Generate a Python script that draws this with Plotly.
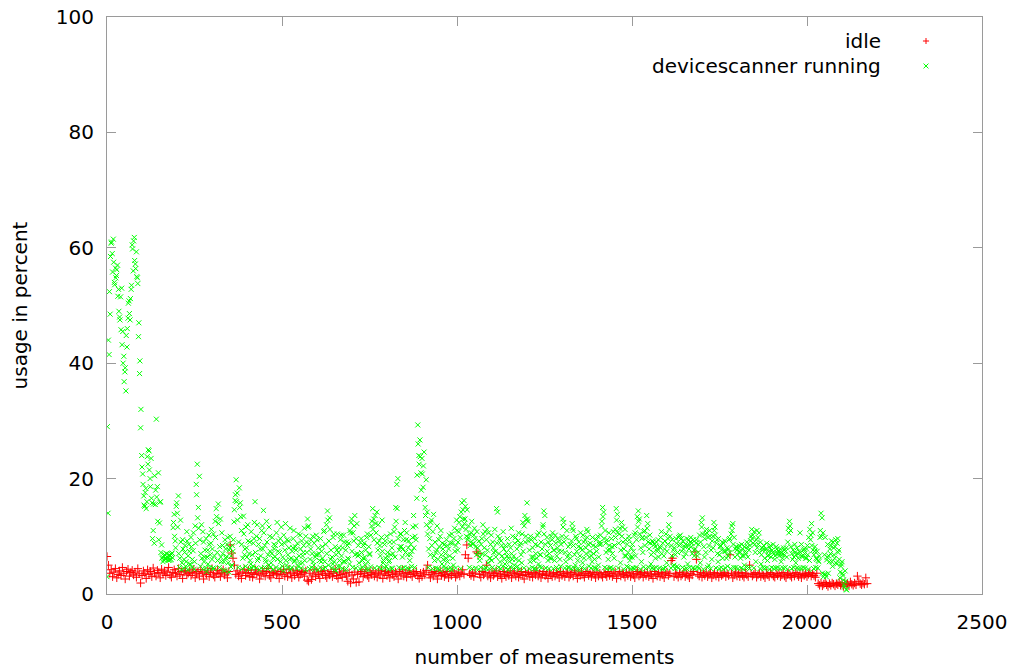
import plotly.graph_objects as go

IDLE_STEP = 4
SCAN_STEP = 3

idle_values = [
    6.5, 5.0, 3.6, 4.2, 3.0, 3.8, 4.4, 2.8, 3.4, 4.0, 3.2, 4.6, 3.6, 2.6, 3.9, 4.3, 3.1, 3.7, 4.1, 3.3,
    3.8, 2.9, 4.4, 3.5, 1.9, 3.2, 4.0, 3.6, 2.7, 4.2, 3.4, 3.9, 3.0, 4.5, 3.6, 3.1, 4.1, 3.7, 2.8, 4.3,
    3.5, 4.0, 3.2, 3.8, 4.6, 3.3, 2.9, 3.7, 4.2, 3.6, 3.1, 4.4, 3.4, 3.9, 2.7, 3.8, 4.1, 3.3, 3.6, 4.0,
    3.2, 3.7, 4.3, 2.8, 3.5, 3.9, 3.1, 4.2, 3.6, 2.6, 3.8, 3.4, 4.0, 3.0, 3.7, 4.4, 3.3, 2.9, 3.6, 4.1,
    3.5, 3.0, 3.8, 4.2, 3.3, 3.7, 2.8, 3.9, 8.5, 7.1, 6.2, 5.0, 3.4, 4.0, 3.1, 3.6, 2.7, 3.8, 4.3, 3.2,
    3.6, 4.1, 3.0, 3.7, 2.9, 3.4, 4.2, 3.5, 3.8, 2.6, 3.3, 4.0, 3.6, 3.1, 3.9, 4.4, 3.2, 2.8, 3.7, 3.5,
    4.0, 3.3, 3.6, 2.7, 3.9, 3.4, 4.2, 3.1, 3.7, 3.0, 4.3, 3.5, 2.8, 3.8, 3.2, 4.1, 3.6, 2.9, 3.4, 3.9,
    3.7, 3.1, 4.0, 2.4, 2.2, 3.6, 2.5, 3.3, 4.2, 3.0, 3.8, 3.4, 2.7, 3.9, 3.5, 4.1, 3.2, 2.8, 3.6, 3.3,
    3.9, 3.0, 3.6, 4.3, 3.2, 2.7, 3.8, 3.4, 2.9, 4.0, 3.5, 3.1, 2.2, 3.7, 1.9, 3.3, 2.6, 3.8, 2.0, 3.4,
    2.1, 3.6, 3.9, 3.0, 3.5, 4.2, 3.2, 2.8, 3.7, 3.4, 4.0, 3.1, 3.6, 2.9, 3.8, 3.3, 4.1, 2.7, 3.5, 3.9,
    3.2, 3.7, 2.8, 4.0, 3.4, 3.0, 3.8, 3.5, 2.6, 3.9, 3.3, 4.2, 3.1, 3.6, 2.9, 3.7, 4.0, 3.4, 3.0, 3.8,
    3.5, 3.9, 3.2, 2.7, 3.6, 3.0, 3.8, 3.3, 4.1, 5.0, 3.4, 2.8, 3.7, 3.1, 3.9, 3.5, 2.6, 3.6, 4.0, 3.2,
    3.7, 3.0, 3.4, 3.9, 2.8, 3.5, 3.2, 4.0, 3.6, 2.9, 3.3, 3.8, 3.1, 3.6, 4.2, 3.4, 6.8, 8.5, 6.2, 3.5,
    3.2, 3.8, 3.0, 3.6, 7.3, 7.0, 3.4, 2.9, 3.9, 3.3, 3.7, 5.0, 3.1, 3.5, 2.8, 3.8, 3.2, 3.6, 4.0, 3.0,
    3.6, 3.3, 2.7, 3.9, 3.4, 3.0, 3.7, 3.2, 4.0, 2.8, 3.5, 3.8, 3.1, 3.6, 2.9, 3.4, 3.9, 3.2, 2.6, 3.7,
    3.4, 3.8, 3.0, 3.5, 2.9, 3.7, 3.3, 4.0, 3.1, 3.6, 2.8, 3.4, 3.9, 3.2, 3.5, 2.7, 3.8, 3.3, 3.0, 3.6,
    3.1, 3.7, 3.4, 2.8, 3.9, 3.2, 3.6, 3.0, 3.5, 3.8, 2.9, 3.3, 3.7, 3.1, 4.0, 3.4, 2.7, 3.6, 3.2, 3.8,
    3.3, 2.9, 3.6, 3.9, 3.2, 3.5, 3.0, 3.7, 3.4, 2.8, 3.8, 3.1, 3.6, 3.3, 2.9, 3.7, 3.4, 3.0, 3.9, 3.2,
    3.6, 3.0, 3.5, 3.8, 2.7, 3.3, 3.9, 3.1, 3.6, 3.4, 2.9, 3.7, 3.2, 3.8, 3.0, 3.5, 3.3, 2.8, 3.6, 3.9,
    3.1, 3.4, 3.7, 2.9, 3.6, 3.2, 3.8, 3.0, 3.5, 3.3, 2.7, 3.9, 3.4, 3.1, 3.6, 3.0, 3.7, 3.3, 2.8, 3.5,
    3.8, 3.2, 3.5, 5.8, 6.2, 3.0, 3.6, 3.3, 2.9, 3.7, 3.1, 3.4, 3.8, 3.0, 3.5, 3.2, 2.8, 3.6, 3.3, 3.9,
    7.3, 6.0, 3.4, 3.1, 3.7, 2.9, 3.5, 3.2, 3.8, 3.0, 3.4, 3.6, 2.8, 3.3, 3.7, 3.1, 3.5, 2.9, 3.6, 3.2,
    3.4, 3.7, 3.0, 3.5, 3.2, 6.8, 3.6, 2.8, 3.3, 3.8, 3.1, 3.5, 3.0, 3.7, 3.2, 2.9, 3.6, 3.3, 3.0, 5.0,
    3.5, 3.1, 3.4, 3.7, 2.9, 3.3, 3.6, 3.0, 3.5, 3.2, 2.8, 3.6, 3.3, 3.0, 3.7, 3.4, 3.1, 2.9, 3.5, 3.2,
    3.6, 3.0, 3.3, 3.7, 3.1, 2.8, 3.4, 3.6, 3.2, 2.9, 3.5, 3.1, 3.7, 3.3, 3.0, 3.4, 2.8, 3.6, 3.2, 3.5,
    3.0, 3.4, 3.7, 3.1, 3.5, 3.2, 2.9, 3.6, 1.8, 1.5, 1.9, 1.4, 1.7, 2.0, 1.6, 1.3, 1.8, 1.5, 1.9, 1.7,
    1.4, 1.8, 1.6, 2.0, 1.5, 1.7, 1.3, 1.9, 1.6, 1.8, 1.4, 2.1, 1.7, 1.5, 1.9, 1.6, 3.1, 2.2, 1.8, 1.6,
    1.9, 1.7, 2.8, 1.8,
]

# devicescanner running, measurements 0, 3, 6, ...
scan_values_a = [
    3.0, 14.0, 41.5, 48.5, 60.8, 59.0, 61.5, 54.0, 56.5, 55.2, 57.0, 52.8, 48.0, 51.5, 53.0, 45.5, 41.2, 38.5, 35.2, 42.8,
    47.8, 50.8, 47.5, 52.8, 60.5, 56.0, 61.8, 57.2, 59.3, 54.8, 44.6, 38.2, 28.8, 24.0, 20.8, 17.0, 15.2, 18.3, 16.0, 22.5,
    24.8, 20.0, 23.5, 15.8, 11.0, 8.8, 15.5, 30.3, 18.6, 21.0, 12.3, 16.0, 8.5, 6.4, 5.9, 6.8, 6.1, 7.0, 6.3, 5.8,
    6.6, 6.0, 7.1, 11.5, 13.8, 9.2, 15.2, 14.0, 17.0, 4.6, 12.8, 4.2, 9.4, 4.5, 7.2, 4.8, 10.8, 4.2, 8.6, 5.1,
    9.8, 4.6, 7.5, 4.3, 11.8, 19.0, 22.5, 15.0, 20.4, 4.8, 12.0, 4.4, 9.0, 6.4, 4.5, 3.9, 7.6, 10.2, 4.6, 8.8,
    6.0, 4.5, 4.4, 12.6, 14.8, 7.2, 15.6, 4.6, 13.0, 5.6, 8.4, 4.2, 4.0, 7.8, 6.5, 9.8, 3.8, 8.0, 4.7, 5.0,
    7.4, 12.5, 16.2, 19.8, 17.5, 4.6, 18.4, 15.8, 11.0, 4.4, 13.5, 6.8, 4.8, 8.0, 12.0, 4.3, 9.0, 5.2, 4.5, 4.8,
    9.6, 16.0, 4.5, 12.0, 6.2, 4.2, 7.8, 4.5, 11.8, 14.5, 4.6, 6.0, 12.6, 4.4, 5.0, 10.0, 4.7, 7.0, 4.2, 8.6,
    6.5, 4.6, 12.4, 7.4, 4.4, 9.6, 11.6, 4.8, 4.0, 8.8, 12.2, 5.0, 4.5, 9.2, 6.0, 4.3, 4.6, 8.0, 11.0, 5.8,
    7.6, 4.4, 4.8, 6.6, 10.2, 4.5, 5.4, 7.2, 11.4, 4.2, 9.0, 13.0, 11.8, 4.4, 7.8, 4.6, 10.0, 5.0, 4.3, 6.8,
    9.4, 4.2, 7.0, 4.6, 5.6, 8.2, 4.4, 11.0, 4.6, 12.0, 14.4, 5.0, 13.2, 6.0, 4.5, 5.2, 10.4, 4.3, 4.0, 7.6,
    4.8, 8.0, 4.8, 10.2, 4.4, 5.6, 9.0, 4.2, 4.4, 8.4, 6.0, 5.2, 10.6, 13.0, 4.6, 9.2, 13.6, 4.5, 12.2, 6.6,
    5.4, 4.4, 9.6, 4.6, 6.2, 8.8, 5.0, 4.3, 10.4, 4.2, 6.8, 4.7, 11.8, 14.8, 13.0, 4.5, 12.2, 14.2, 7.6, 4.6,
    8.4, 4.4, 12.8, 5.4, 4.6, 9.2, 4.8, 6.6, 4.3, 5.8, 10.4, 4.5, 4.4, 9.0, 11.6, 15.0, 19.0, 20.0, 4.6, 8.2,
    10.4, 4.4, 7.8, 4.6, 12.4, 9.4, 4.5, 8.0, 4.3, 6.8, 4.8, 9.8, 13.6, 4.6, 11.8, 16.6, 29.3, 24.0, 26.7, 21.0,
    23.5, 18.5, 24.6, 15.0, 19.8, 14.2, 4.6, 11.4, 6.8, 12.8, 4.4, 13.8, 5.8, 4.5, 7.6, 4.4, 9.4, 4.2, 11.0, 5.2,
    7.8, 4.8, 4.4, 6.2, 8.4, 4.3, 10.2, 4.6, 4.2, 8.8, 5.0, 11.4, 4.5, 12.8, 7.6, 10.8, 13.4, 4.4, 15.8, 14.6,
    16.2, 13.0, 11.2, 14.6, 9.8, 4.6, 8.4, 10.6, 4.4, 8.8, 11.4, 4.5, 6.8, 8.0, 4.3, 5.8, 4.6, 9.6, 12.0, 4.4,
    10.8, 4.5, 11.2, 5.4, 4.4, 6.2, 10.2, 4.6, 8.0, 4.3, 7.4, 14.8, 14.2, 4.6, 9.6, 4.4, 8.4, 4.8, 7.8, 5.2,
    4.5, 6.6, 4.2, 8.6, 4.7, 11.4, 6.0, 4.4, 5.0, 9.8, 4.6, 4.8, 10.6, 4.3, 8.8, 5.4, 12.4, 4.5, 13.6, 10.0,
    15.8, 12.6, 4.4, 5.6, 9.4, 4.6, 6.4, 4.4, 8.6, 4.3, 10.2, 5.2, 4.7, 6.8, 4.6, 11.6, 14.4, 13.6, 4.5, 9.8,
    5.8, 4.4, 6.2, 10.0, 9.4, 4.4, 7.6, 10.2, 4.6, 8.0, 4.3, 9.2, 4.8, 7.4, 13.0, 12.4, 4.5, 5.6, 11.0, 4.6,
    4.6, 8.6, 4.4, 12.2, 11.0, 4.5, 5.0, 9.6, 4.3, 8.2, 4.2, 10.6, 4.6, 5.4, 9.0, 4.4, 8.0, 11.2, 10.8, 4.8,
    7.4, 4.5, 5.6, 8.4, 4.6, 4.4, 9.4, 4.3, 5.0, 8.6, 10.2, 11.8, 15.0, 14.2, 4.6, 8.8, 4.4, 7.6, 10.6, 4.5,
    4.6, 8.2, 4.4, 6.2, 11.2, 14.8, 13.8, 4.5, 10.4, 5.4, 12.4, 11.6, 4.3, 6.6, 9.4, 4.8, 4.6, 10.0, 5.8, 4.4,
    6.4, 4.5, 4.4, 10.6, 4.6, 13.4, 14.4, 13.0, 4.3, 5.6, 9.8, 4.7, 11.0, 4.4, 13.6, 12.2, 4.6, 10.2, 5.2, 4.5,
    9.0, 4.4, 8.2, 4.6, 7.4, 9.4, 4.5, 8.0, 10.8, 4.3, 4.4, 7.8, 4.6, 5.4, 8.6, 12.0, 13.8, 4.5, 6.6, 4.8,
    5.0, 4.4, 9.6, 4.8, 4.5, 8.4, 10.2, 9.6, 4.6, 7.8, 4.3, 8.6, 4.4, 5.2, 9.4, 4.6, 9.8, 8.8, 4.5, 7.6,
    4.4, 8.8, 4.6, 7.2, 4.5, 5.4, 12.4, 13.2, 4.3, 6.4, 10.4, 11.2, 4.6, 5.0, 11.0, 4.4, 6.0, 10.0, 12.4, 11.6,
    4.5, 9.4, 5.6, 4.4, 8.2, 4.6, 9.0, 4.3, 7.4, 4.5, 6.2, 4.8, 7.8, 9.6, 4.4, 11.8, 12.2, 4.6, 6.4, 4.6,
    7.6, 4.4, 8.4, 7.2, 4.5, 6.6, 4.3, 5.0, 7.4, 4.6, 8.2, 4.6, 4.4, 9.2, 11.2, 10.2, 4.5, 8.6, 5.6, 11.0,
    9.8, 10.6, 4.4, 5.2, 8.0, 4.6, 4.4, 7.6, 4.5, 5.8, 6.8, 4.3, 8.4, 4.6, 7.2, 4.4, 6.0, 4.5, 7.8, 4.6,
    7.0, 4.4, 5.6, 6.8, 4.5, 7.6, 4.6, 8.0, 4.3, 11.4, 12.6, 11.0, 4.4, 6.0, 4.6, 8.6, 5.4, 4.5, 7.0, 4.4,
    10.6, 4.4, 6.6, 4.6, 7.8, 4.5, 6.2, 8.4, 4.3, 5.8, 9.4, 12.2, 10.6, 4.4, 7.4, 4.6, 6.0, 4.5, 5.6, 9.8,
    14.0, 13.2, 10.6, 3.4, 9.8, 3.0, 6.4, 3.6, 5.6, 7.0, 9.2, 4.8, 8.0, 6.2, 9.4, 5.2, 9.6, 7.6, 2.8, 4.8,
    5.6, 3.2, 1.6, 4.0, 0.8,
]

# devicescanner running, measurements 1, 4, 7, ...
scan_values_b = [
    29.0, 44.0, 52.4, 58.5, 61.0, 55.8, 57.5, 53.6, 54.8, 56.2, 51.6, 49.0, 47.5, 45.8, 43.2, 40.0, 36.8, 39.2, 44.8, 46.0,
    50.4, 48.6, 51.2, 53.5, 59.8, 61.2, 57.8, 56.4, 55.0, 53.8, 47.0, 40.4, 32.0, 22.0, 19.0, 15.4, 17.6, 14.8, 23.8, 25.0,
    21.5, 18.6, 16.6, 9.6, 15.6, 20.5, 18.0, 16.8, 12.6, 9.4, 15.9, 7.2, 6.2, 5.6, 6.6, 6.0, 7.0, 6.4, 5.9, 6.8,
    5.9, 6.9, 6.3, 12.4, 10.0, 8.0, 15.8, 11.6, 7.0, 6.2, 9.0, 5.4, 7.8, 6.0, 8.4, 5.6, 9.2, 6.6, 7.4, 5.2,
    8.2, 6.0, 10.6, 5.6, 8.8, 17.2, 13.2, 11.4, 9.4, 7.0, 6.2, 10.8, 5.6, 7.6, 9.6, 6.4, 5.2, 8.6, 6.8, 11.2,
    7.8, 10.4, 6.6, 9.8, 13.4, 5.8, 12.2, 8.2, 6.4, 10.6, 7.0, 5.6, 9.4, 6.2, 8.6, 5.4, 7.6, 10.0, 6.6, 8.4,
    9.4, 14.6, 17.2, 16.0, 12.8, 9.0, 15.0, 13.4, 8.6, 6.2, 10.4, 7.8, 11.6, 6.4, 9.2, 7.0, 5.8, 10.8, 6.8, 8.8,
    12.4, 7.2, 10.0, 5.8, 8.6, 9.6, 6.6, 11.0, 7.8, 10.6, 8.4, 5.6, 9.0, 6.8, 11.6, 7.4, 5.4, 9.8, 6.2, 7.8,
    8.4, 10.6, 6.0, 9.2, 7.2, 5.6, 8.6, 6.4, 10.2, 7.6, 5.8, 9.4, 6.8, 8.0, 11.4, 6.2, 7.4, 9.6, 5.6, 8.2,
    6.2, 8.8, 10.4, 5.4, 7.8, 9.2, 6.6, 8.4, 5.8, 10.0, 7.2, 11.6, 8.6, 6.0, 9.4, 7.0, 5.6, 8.8, 6.4, 10.2,
    6.8, 8.0, 5.8, 9.6, 7.4, 6.2, 10.8, 5.6, 8.6, 7.0, 12.8, 9.2, 11.2, 7.6, 6.4, 9.8, 5.6, 8.2, 6.8, 10.4,
    7.2, 5.8, 9.4, 6.6, 8.0, 10.2, 5.6, 7.6, 9.0, 6.2, 8.8, 11.0, 12.4, 7.4, 10.6, 11.8, 6.8, 9.6, 7.0, 8.4,
    6.8, 9.0, 7.2, 5.8, 8.4, 6.4, 7.6, 9.8, 5.6, 8.2, 7.0, 10.2, 12.6, 11.2, 9.4, 13.6, 10.6, 8.8, 12.0, 9.2,
    6.6, 9.8, 7.4, 5.8, 8.6, 6.2, 10.0, 7.2, 5.6, 9.0, 6.8, 8.0, 7.0, 10.8, 6.4, 12.6, 14.8, 9.6, 7.6, 10.4,
    8.2, 6.4, 9.4, 11.0, 7.2, 10.6, 6.8, 9.2, 5.8, 8.6, 7.4, 11.6, 8.0, 10.0, 9.4, 20.6, 26.0, 22.5, 23.8, 18.0,
    20.8, 22.2, 16.4, 13.6, 12.0, 10.4, 7.8, 9.6, 12.4, 8.4, 10.8, 6.6, 9.0, 7.2, 11.8, 6.0, 8.2, 10.0, 6.8, 8.8,
    6.0, 8.6, 7.0, 9.4, 5.6, 7.8, 6.6, 8.8, 10.4, 6.2, 9.6, 7.4, 8.4, 11.0, 9.0, 12.4, 9.8, 14.2, 11.6, 13.0,
    12.2, 15.2, 10.0, 9.4, 11.8, 10.4, 9.0, 12.6, 8.6, 10.2, 9.6, 8.2, 10.8, 7.2, 9.2, 6.4, 8.6, 7.0, 10.4, 8.0,
    6.8, 9.4, 7.6, 10.6, 6.2, 8.6, 5.8, 9.0, 7.2, 11.2, 6.4, 8.8, 10.0, 7.0, 5.6, 9.2, 6.6, 10.8, 6.0, 8.4,
    7.2, 9.6, 6.2, 5.6, 8.0, 7.0, 10.0, 6.6, 8.8, 6.0, 7.8, 9.2, 5.8, 8.4, 6.8, 10.4, 7.4, 11.8, 9.0, 12.8,
    13.0, 9.2, 7.6, 10.0, 6.4, 8.0, 5.8, 9.6, 7.0, 6.2, 8.4, 10.6, 6.8, 9.0, 7.8, 12.0, 10.4, 8.6, 6.6, 7.4,
    9.0, 7.0, 8.4, 6.2, 10.6, 7.6, 5.8, 8.8, 6.6, 9.6, 7.4, 6.0, 8.6, 10.0, 11.6, 9.0, 7.2, 9.8, 6.4, 8.2,
    7.0, 6.2, 9.2, 11.4, 8.4, 6.8, 10.0, 7.4, 5.8, 9.0, 6.6, 8.0, 7.6, 10.2, 6.2, 9.4, 7.0, 9.8, 8.6, 6.4,
    8.8, 6.6, 9.8, 7.0, 6.0, 8.2, 7.4, 10.0, 6.4, 9.0, 8.6, 12.6, 13.4, 9.6, 11.0, 7.2, 9.4, 6.0, 8.4, 7.6,
    9.6, 7.0, 10.8, 8.4, 9.8, 12.8, 10.6, 8.8, 11.4, 7.6, 10.0, 9.0, 7.8, 11.2, 6.6, 8.6, 7.2, 9.4, 6.4, 8.0,
    8.6, 7.4, 10.2, 6.6, 9.4, 11.6, 12.6, 10.4, 8.0, 9.6, 7.2, 10.8, 8.4, 9.8, 11.4, 9.0, 7.8, 8.8, 6.8, 9.2,
    7.2, 8.6, 6.2, 9.0, 7.8, 6.4, 8.2, 9.8, 7.0, 8.8, 6.6, 9.2, 10.4, 7.4, 9.6, 11.2, 10.0, 8.4, 9.4, 7.6,
    8.0, 6.8, 8.8, 7.2, 9.8, 10.0, 8.6, 7.4, 9.2, 6.4, 8.2, 7.0, 9.6, 8.4, 7.8, 9.0, 8.2, 7.0, 9.4, 6.6,
    7.8, 9.4, 6.6, 8.6, 10.2, 9.0, 11.6, 10.4, 8.2, 9.6, 7.2, 10.6, 9.8, 8.4, 10.0, 7.6, 9.2, 8.0, 11.0, 10.2,
    8.8, 7.0, 9.6, 6.8, 8.4, 7.6, 6.2, 8.8, 9.2, 7.4, 8.0, 6.6, 9.4, 7.2, 10.4, 11.0, 8.6, 9.8, 7.8, 8.2,
    6.8, 8.0, 7.4, 6.2, 8.6, 7.8, 6.6, 8.2, 7.0, 9.0, 6.4, 7.6, 8.4, 10.0, 9.6, 8.8, 10.8, 7.2, 9.4, 8.0,
    8.6, 7.2, 9.0, 6.8, 7.6, 8.4, 6.2, 7.8, 8.8, 6.6, 7.4, 8.0, 6.4, 7.6, 8.6, 7.0, 6.6, 8.2, 7.0, 7.4,
    6.6, 7.8, 7.2, 6.2, 8.0, 6.8, 7.4, 6.4, 9.0, 10.6, 11.8, 8.2, 7.0, 7.6, 6.4, 7.2, 6.8, 8.0, 6.2, 7.4,
    7.2, 8.6, 6.4, 7.6, 7.0, 6.2, 7.8, 6.8, 9.8, 11.2, 10.2, 8.4, 7.6, 6.8, 8.2, 6.2, 7.4, 5.8, 6.6, 11.0,
    10.0, 3.6, 3.0, 6.8, 3.4, 5.9, 8.6, 6.6, 7.8, 8.4, 5.6, 9.0, 6.8, 8.2, 5.4, 8.8, 7.2, 6.0, 3.8, 5.2,
    3.6, 2.4, 1.2, 2.2, 0.7,
]

x_ticks = [0, 500, 1000, 1500, 2000, 2500]
y_ticks = [0, 20, 40, 60, 80, 100]
series_names = ["idle", "devicescanner running"]

idle_x = [i * IDLE_STEP for i in range(len(idle_values))]
scan_x = ([i * SCAN_STEP for i in range(len(scan_values_a))]
          + [1 + i * SCAN_STEP for i in range(len(scan_values_b))])
scan_y = scan_values_a + scan_values_b

RED = "#ff0000"
GREEN = "#00ff00"
FONT = "DejaVu Sans"
FS = 20

fig = go.Figure()
fig.add_trace(go.Scatter(
    x=idle_x, y=idle_values, mode="markers", name=series_names[0],
    marker=dict(symbol="cross-thin", size=6, line=dict(color=RED, width=1), color=RED),
    showlegend=False,
))
fig.add_trace(go.Scatter(
    x=scan_x, y=scan_y, mode="markers", name=series_names[1],
    marker=dict(symbol="x-thin", size=5, line=dict(color=GREEN, width=1), color=GREEN),
    showlegend=False,
))

axis_common = dict(
    showgrid=False, zeroline=False, showline=True, linecolor="#9a9a9a", linewidth=1,
    mirror="allticks", ticks="inside", ticklen=9, tickcolor="#9a9a9a", tickwidth=1,
    automargin=False,
    tickfont=dict(family=FONT, size=FS, color="black"),
)

fig.update_layout(
    width=1014, height=669,
    margin=dict(l=107, r=32, t=17, b=75),
    paper_bgcolor="white", plot_bgcolor="white",
    font=dict(family=FONT, size=FS, color="black"),
    xaxis=dict(range=[0, 2500], tickvals=x_ticks, ticklabelstandoff=10,
               title=dict(text="number of measurements", standoff=18,
                          font=dict(family=FONT, size=FS)), **axis_common),
    yaxis=dict(range=[0, 100], tickvals=y_ticks, ticklabelstandoff=8,
               title=dict(text="usage in percent", standoff=22,
                          font=dict(family=FONT, size=FS)), **axis_common),
)

# gnuplot-style key: text right-aligned, sample symbol to its right
key_text_x = 0.8869
key_sym_x = 0.9360
key_rows_y = [0.9584, 0.9151]
for name, yk in zip(series_names, key_rows_y):
    fig.add_annotation(x=key_text_x, y=yk, xref="paper", yref="paper", text=name,
                       showarrow=False, xanchor="right", yanchor="middle",
                       font=dict(family=FONT, size=FS, color="black"))

hx, hy = 0.0035, 0.0052
# "+" for idle
fig.add_shape(type="line", xref="paper", yref="paper", x0=key_sym_x - hx, x1=key_sym_x + hx,
              y0=key_rows_y[0], y1=key_rows_y[0], line=dict(color=RED, width=1))
fig.add_shape(type="line", xref="paper", yref="paper", x0=key_sym_x, x1=key_sym_x,
              y0=key_rows_y[0] - hy, y1=key_rows_y[0] + hy, line=dict(color=RED, width=1))
# "x" for devicescanner
fig.add_shape(type="line", xref="paper", yref="paper", x0=key_sym_x - hx * 0.8, x1=key_sym_x + hx * 0.8,
              y0=key_rows_y[1] - hy * 0.8, y1=key_rows_y[1] + hy * 0.8, line=dict(color=GREEN, width=1))
fig.add_shape(type="line", xref="paper", yref="paper", x0=key_sym_x - hx * 0.8, x1=key_sym_x + hx * 0.8,
              y0=key_rows_y[1] + hy * 0.8, y1=key_rows_y[1] - hy * 0.8, line=dict(color=GREEN, width=1))

fig.write_html("out.html")
